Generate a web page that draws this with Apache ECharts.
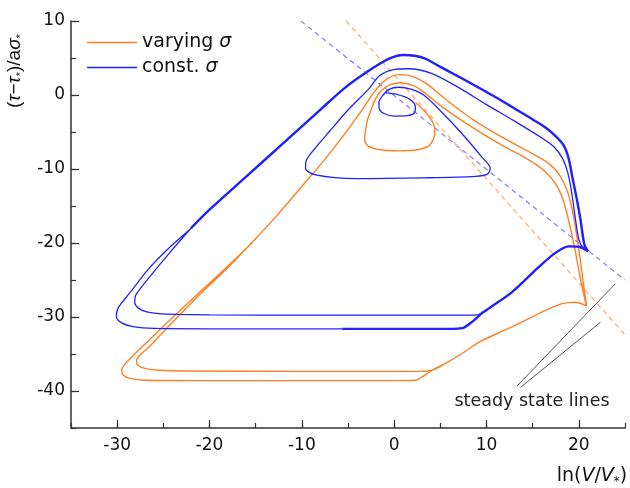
<!DOCTYPE html>
<html>
<head>
<meta charset="utf-8">
<script src="https://cdn.jsdelivr.net/npm/echarts@6/dist/echarts.min.js"></script>
<style>
    html, body { margin: 0; padding: 0; background: #fff; }
    #chart { width: 630px; height: 488px; }
</style>
</head>
<body>
<div id="chart"></div>
<script>
    // tick labels
    var xMajor = [-30, -20, -10, 0, 10, 20];
    var yMajor = [-40, -30, -20, -10, 0, 10];

    // const. sigma (blue) trajectory pieces, clockwise
    var blueSpiral = [[-0.9,0.3],[0.3,0.1],[1.6,-0.5],[2.3,-1.6],[2.2,-2.4],[1.4,-2.8],[0,-2.85],[-1.1,-2.5],[-1.6,-1.9],[-1.65,-1.0],[-1.2,0.0],[-0.5,0.8],[0.5,1.05],[1.8,0.8],[3.2,0.0],[4.9,-2.0],[7.4,-5.3],[9.5,-8.4],[10.4,-9.9],[10.1,-10.7],[8.8,-11.0],[3.1,-11.2],[-4.1,-11.3],[-8.5,-10.8],[-9.6,-9.9],[-9.5,-8.8],[-8.7,-7.4],[-7.0,-4.9],[-4.9,-1.9]];
    var blueArcInner = [[-2.7,0.9],[-1.6,2.6],[-0.2,3.4],[1.6,3.55],[4.1,2.9],[7,1.0],[10,-1.3],[13,-3.5],[16,-5.8],[17.3,-7.0],[18.2,-8.5],[18.8,-10.5],[19.2,-13],[19.6,-16.5],[20.0,-19.5],[20.5,-20.8]];
    var blueCusp = [[21.0,-21.1],[20.0,-20.5],[18.9,-20.45],[17.5,-21.3],[15.7,-23.2],[12.8,-26.6],[10.3,-28.8]];
    var blueBottomInner = [[9.6,-29.4],[9.0,-29.7],[7,-29.75],[0,-29.75],[-10,-29.75],[-20,-29.7],[-23.5,-29.65],[-25.5,-29.55],[-26.8,-29.3],[-27.7,-28.8],[-28.1,-28.0],[-28.0,-27.1],[-27.4,-26.0],[-26.3,-24.3],[-24.3,-21.3]];
    var blueLimit = [[-22,-18.0],[-20,-15.5],[-16,-11.0],[-12,-6.5],[-8.1,-2.1],[-5.5,0.8],[-3.8,2.4],[-1.6,4.2],[-0.2,5.1],[1.0,5.4],[2.2,5.3],[3.4,4.9],[5,3.8],[8,1.8],[11,-0.3],[13,-1.8],[15,-3.3],[16.5,-4.5],[17.6,-5.7],[18.4,-6.9],[18.9,-8.6],[19.3,-11.1],[19.8,-14.2],[20.2,-17],[20.6,-20.2]];
    var blueBottomOuter = [[9.6,-29.4],[8.3,-30.8],[7.4,-31.5],[6,-31.6],[0,-31.6],[-10,-31.6],[-20,-31.6],[-26,-31.55],[-28.3,-31.3],[-29.5,-30.8],[-30.1,-29.9],[-29.9,-28.8],[-29.2,-27.6],[-28.3,-26.2],[-26.6,-23.5],[-24.5,-20.8]];
    var blueBottomEnd = [[9.6,-29.4],[8.3,-30.8],[7.4,-31.5],[6,-31.6],[-5.6,-31.6]];

    // varying sigma (orange) trajectory pieces, clockwise
    var orangeSpiral = [[2.3,-1.0],[3.3,-2.2],[4.0,-3.3],[4.4,-4.6],[4.3,-5.8],[3.7,-6.9],[2.5,-7.4],[0.5,-7.55],[-1.5,-7.4],[-2.8,-6.9],[-3.2,-6.0],[-3.1,-4.8],[-2.9,-3.4],[-2.5,-2.0],[-2.0,-0.5],[-1.3,0.7],[-0.4,1.4],[0.7,1.65]];
    var orangeArcInner = [[2.0,1.3],[3.0,0.6],[5.2,-1.6],[8,-4.0],[11.4,-6.6],[14.5,-8.7],[16.3,-10.3],[17.5,-12.0],[18.3,-14.2],[19.0,-17.5],[19.6,-21],[20.2,-25],[20.8,-28.4]];
    var orangeCusp = [[20.85,-28.5],[19.6,-28.0],[18.2,-28.2],[16.4,-29.1],[12.8,-31.3],[9.2,-33.4],[7.4,-34.9],[5.5,-36.3],[4.1,-37.2]];
    var orangeBottomInner = [[3,-37.35],[-10,-37.35],[-22,-37.3],[-25.5,-37.2],[-27,-36.95],[-27.8,-36.5],[-27.9,-35.9],[-27.5,-35.1],[-26.5,-34.0],[-25.3,-32.4],[-23.6,-30.2],[-21.1,-27.0],[-18,-23.3],[-15.3,-19.8],[-12.7,-16.3]];
    var orangeArcOuter = [[-10.3,-12.8],[-7.5,-8.7],[-5.5,-5.5],[-4.2,-3.3],[-3.3,-1.7],[-2.4,0.0],[-1.5,1.4],[-0.6,2.3],[0.5,2.75],[1.6,2.65],[3.4,1.6],[5.9,-0.9],[8.5,-3.3],[11.4,-5.5],[14.5,-7.6],[16.8,-9.3],[17.9,-10.8],[18.7,-12.8],[19.3,-15.6],[19.8,-19.2],[20.2,-22.6],[20.5,-25.6]];
    var orangeBottomOuter = [[3.0,-38.1],[2.3,-38.55],[0,-38.6],[-20,-38.6],[-27,-38.55],[-28.6,-38.3],[-29.4,-37.8],[-29.5,-37.2],[-29.2,-36.4],[-28.5,-35.5],[-27.6,-34.4],[-25.4,-31.75],[-23.6,-29.6],[-21.1,-26.7],[-18,-23.1],[-15.3,-19.85]];

    // steady state lines (dashed) and the pointers of the annotation
    var blueSteady = [[-10.1,10],[25,-25]];
    var orangeSteady = [[-5.2,10],[25,-32.4]];
    var pointer1 = [[13.33,-39.3],[23.96,-25.5]];
    var pointer2 = [[13.7,-39.5],[22.35,-30.7]];

    function path() {
        return Array.prototype.concat.apply([], arguments);
    }

    var blueTrajectory = path(blueSpiral, blueArcInner, blueCusp, blueBottomInner, blueLimit, blueCusp,
        blueBottomOuter, blueLimit, blueCusp, blueBottomEnd);
    var blueThick = path(blueLimit, blueCusp, blueBottomEnd);
    var orangeTrajectory = path(orangeSpiral, orangeArcInner, orangeCusp, orangeBottomInner, orangeArcOuter,
        orangeCusp, orangeBottomOuter);

    var ORANGE = '#ff8024';
    var BLUE = '#2222ff';
    var FONT = '"DejaVu Sans", sans-serif';
    var TITLE_FONT = '"Liberation Sans", Arial, sans-serif';

    function lineSeries(name, data, color, width, extra) {
        var s = {
            name: name,
            type: 'line',
            data: data,
            showSymbol: false,
            symbol: 'none',
            smooth: 0.3,
            silent: true,
            animation: false,
            lineStyle: { color: color, width: width },
            itemStyle: { color: color }
        };
        for (var k in extra) s[k] = extra[k];
        return s;
    }

    var myChart = echarts.init(document.getElementById('chart'));
    var axisColor = '#333';
    myChart.setOption({
        animation: false,
        grid: { left: 71, right: 5, top: 21, bottom: 60 },
        legend: {
            data: ['varying σ', 'const. σ'],
            orient: 'vertical',
            left: 82,
            top: 28,
            itemWidth: 50,
            itemHeight: 1.6,
            itemGap: 6,
            icon: 'rect',
            textStyle: {
                fontFamily: FONT, fontSize: 19, color: '#111',
                rich: { i: { fontFamily: FONT, fontSize: 19, fontStyle: 'italic', color: '#111' } }
            },
            formatter: function (name) {
                return name.replace('σ', '{i|σ}');
            }
        },
        xAxis: [{
            type: 'value', min: -35, max: 25, interval: 5,
            axisLine: { onZero: false, lineStyle: { color: axisColor, width: 1.5 } },
            axisTick: { inside: true, length: 5, lineStyle: { color: axisColor, width: 1.2 } },
            axisLabel: { show: false },
            splitLine: { show: false }
        }, {
            type: 'value', min: -35, max: 25, interval: 5, position: 'bottom',
            axisLine: { show: false, onZero: false },
            axisTick: { inside: true, length: 8, customValues: xMajor, lineStyle: { color: axisColor, width: 1.2 } },
            axisLabel: { customValues: xMajor, margin: 9, fontFamily: FONT, fontSize: 17, color: '#111' },
            splitLine: { show: false }
        }],
        yAxis: [{
            type: 'value', min: -45, max: 10, interval: 5,
            axisLine: { show: true, onZero: false, lineStyle: { color: axisColor, width: 1.5 } },
            axisTick: { show: true, inside: true, length: 5, lineStyle: { color: axisColor, width: 1.2 } },
            axisLabel: { show: false },
            splitLine: { show: false }
        }, {
            type: 'value', min: -45, max: 10, interval: 5, position: 'left',
            axisLine: { show: false, onZero: false },
            axisTick: { show: true, inside: true, length: 8, customValues: yMajor, lineStyle: { color: axisColor, width: 1.2 } },
            axisLabel: { customValues: yMajor, margin: 6, fontFamily: FONT, fontSize: 17, color: '#111' },
            splitLine: { show: false }
        }],
        series: [
            lineSeries('blue steady', blueSteady, '#7d7dff', 1.2, { smooth: false, lineStyle: { color: '#7d7dff', width: 1.2, type: [5, 4] } }),
            lineSeries('orange steady', orangeSteady, '#ffaa6a', 1.2, { smooth: false, lineStyle: { color: '#ffaa6a', width: 1.2, type: [5, 4] } }),
            lineSeries('varying σ', orangeTrajectory, ORANGE, 1.4),
            lineSeries('const. σ', blueTrajectory, BLUE, 1.3),
            lineSeries('limit', blueThick, BLUE, 2.4),
            lineSeries('p1', pointer1, '#555', 1, { smooth: false }),
            lineSeries('p2', pointer2, '#555', 1, { smooth: false })
        ],
        graphic: [{
            type: 'text',
            x: 15, y: 71,
            rotation: Math.PI / 2,
            style: {
                text: '({i|τ}−{i|τ}{s|*})/a{i|σ}{s|*}',
                font: '19px ' + TITLE_FONT,
                fill: '#111',
                align: 'center',
                verticalAlign: 'middle',
                rich: {
                    i: { fontFamily: TITLE_FONT, fontSize: 19, fontStyle: 'italic', fill: '#111', lineHeight: 22 },
                    s: { fontFamily: TITLE_FONT, fontSize: 11, fill: '#111', verticalAlign: 'bottom', lineHeight: 22 }
                }
            }
        }, {
            type: 'text',
            x: 592, y: 476,
            style: {
                text: 'ln({i|V}/{i|V}{s|*})',
                font: '19px ' + FONT,
                fill: '#111',
                align: 'center',
                verticalAlign: 'middle',
                rich: {
                    i: { fontFamily: FONT, fontSize: 19, fontStyle: 'italic', fill: '#111', lineHeight: 24 },
                    s: { fontFamily: FONT, fontSize: 12, fill: '#111', verticalAlign: 'bottom', lineHeight: 24 }
                }
            }
        }, {
            type: 'text',
            x: 532, y: 401,
            style: {
                text: 'steady state lines',
                font: '17.5px ' + FONT,
                fill: '#222',
                align: 'center',
                verticalAlign: 'middle'
            }
        }]
    });
</script>
</body>
</html>
